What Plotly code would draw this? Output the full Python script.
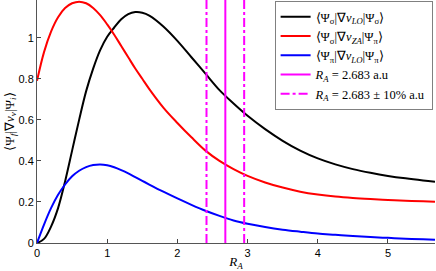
import plotly.graph_objects as go

x = [0, 0.1, 0.2, 0.3, 0.4, 0.5, 0.6, 0.7, 0.8, 0.9, 1.0, 1.1, 1.2, 1.3, 1.4, 1.5, 1.6, 1.8, 2.0, 2.2,
     2.4, 2.6, 2.8, 3.0, 3.25, 3.5, 3.75, 4.0, 4.25, 4.5, 4.75, 5.0, 5.25, 5.5, 5.67]
black = [0, 0.02, 0.08, 0.17, 0.30, 0.45, 0.60, 0.74, 0.85, 0.94, 1.005, 1.05, 1.09, 1.115, 1.125, 1.122, 1.108,
         1.055, 0.985, 0.905, 0.825, 0.745, 0.68, 0.62, 0.555, 0.498, 0.45, 0.412, 0.383, 0.36, 0.342, 0.327,
         0.315, 0.305, 0.299]
red = [0.79, 0.93, 1.03, 1.10, 1.145, 1.168, 1.176, 1.168, 1.145, 1.11, 1.065, 1.015, 0.96, 0.905, 0.85, 0.80,
       0.75, 0.66, 0.585, 0.515, 0.45, 0.40, 0.36, 0.327, 0.295, 0.27, 0.25, 0.236, 0.226, 0.219, 0.214, 0.21,
       0.206, 0.203, 0.201]
blue = [0, 0.09, 0.17, 0.235, 0.285, 0.325, 0.352, 0.37, 0.38, 0.383, 0.379, 0.369, 0.355, 0.339, 0.321, 0.303,
        0.285, 0.25, 0.217, 0.186, 0.157, 0.132, 0.11, 0.094, 0.078, 0.065, 0.055, 0.046, 0.04, 0.034, 0.029,
        0.025, 0.021, 0.018, 0.016]
RA = 2.683
RA_lo = RA * 0.9
RA_hi = RA * 1.1
y_top = 1.184
x_max = 5.67

names = [
    "⟨Ψ<sub>σ</sub>|∇<i>v</i><sub><i>LO</i></sub>|Ψ<sub>σ</sub>⟩",
    "⟨Ψ<sub>σ</sub>|∇<i>v</i><sub><i>ZA</i></sub>|Ψ<sub>π</sub>⟩",
    "⟨Ψ<sub>π</sub>|∇<i>v</i><sub><i>LO</i></sub>|Ψ<sub>π</sub>⟩",
    "<i>R<sub>A</sub></i> = 2.683 a.u",
    "<i>R<sub>A</sub></i> = 2.683 ± 10% a.u",
]

fig = go.Figure()
for ys, c, n in [(black, "#000000", names[0]), (red, "#FF0000", names[1]), (blue, "#0000FF", names[2])]:
    fig.add_trace(go.Scatter(x=x, y=ys, mode="lines", line=dict(color=c, width=2, shape="spline"), name=n))

fig.add_trace(go.Scatter(x=[RA, RA], y=[0, y_top], mode="lines",
                         line=dict(color="#FF00FF", width=2), name=names[3]))
fig.add_trace(go.Scatter(x=[RA_lo, RA_lo, None, RA_hi, RA_hi], y=[0, y_top, None, 0, y_top], mode="lines",
                         line=dict(color="#FF00FF", width=2, dash="dashdot"), name=names[4]))

fig.update_layout(
    width=436, height=271,
    margin=dict(l=37, r=1, t=0, b=28),
    plot_bgcolor="white", paper_bgcolor="white",
    font=dict(family="Liberation Sans", size=11, color="black"),
    legend=dict(x=0.597, y=0.995, xanchor="left", yanchor="top",
                bgcolor="white", bordercolor="#808080", borderwidth=1,
                font=dict(family="Liberation Serif", size=12.5),
                tracegroupgap=0, itemwidth=30),
    showlegend=True,
)
fig.update_xaxes(range=[0, x_max], tickvals=[0, 1, 2, 3, 4, 5], ticks="inside", ticklen=4,
                 showgrid=False, zeroline=False, showline=True, linecolor="#555555", linewidth=1,
                 automargin=False,
                 title=dict(text="<i>R<sub>A</sub></i>", font=dict(family="Liberation Serif", size=13), standoff=0))
fig.update_yaxes(range=[0, y_top], tickvals=[0, 0.2, 0.4, 0.6, 0.8, 1.0], ticktext=["0", "0.2", "0.4", "0.6", "0.8", "1"],
                 ticks="inside", ticklen=4, showgrid=False, zeroline=False, showline=True,
                 linecolor="#555555", linewidth=1, automargin=False,
                 title=dict(text="⟨Ψ<sub><i>f</i></sub>|∇<i>v</i><sub><i>ν</i></sub>|Ψ<sub><i>i</i></sub>⟩",
                            font=dict(family="Liberation Serif", size=13), standoff=0))

fig.write_html("out.html", config={"displayModeBar": False},
               post_script="document.body.style.margin='0';document.body.style.padding='0';")
